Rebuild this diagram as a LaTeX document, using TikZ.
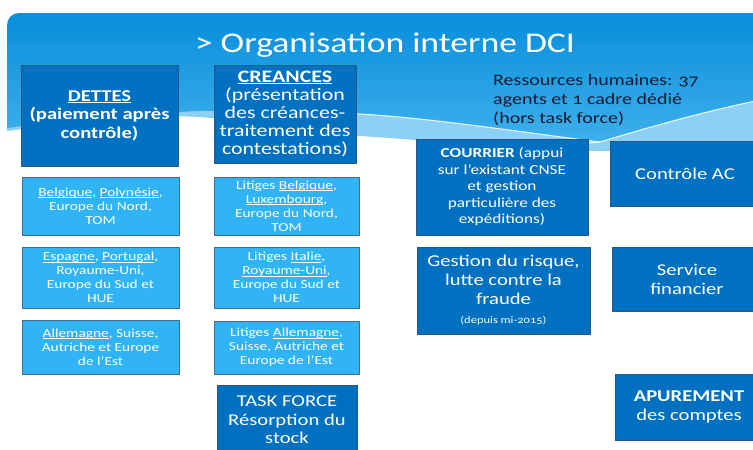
\documentclass[tikz,border=0pt]{standalone}
\usepackage{fontspec}
\setmainfont{Carlito}[FakeStretch=1.25]
\definecolor{dkbox}{RGB}{0,112,192}
\definecolor{dkborder}{RGB}{45,85,130}
\definecolor{ltbox}{RGB}{48,180,245}
\definecolor{ltborder}{RGB}{70,105,140}
\definecolor{bgtop}{RGB}{8,142,218}
\definecolor{bgbot}{RGB}{62,176,236}
\definecolor{band}{RGB}{140,208,244}
\definecolor{rhtext}{RGB}{25,25,50}
\newcommand{\myul}[1]{\setbox0\hbox{#1}\rlap{\rule[-1.7pt]{\wd0}{0.55pt}}\box0}
\newcommand{\osn}{\addfontfeatures{Numbers=OldStyle}}
\begin{document}
\begin{tikzpicture}[x=1pt,y=-1pt,
  dark/.style={draw=dkborder, fill=dkbox, line width=0.8pt, text=white, align=center, inner sep=0pt},
  light/.style={draw=ltborder, fill=ltbox, line width=0.8pt, text=white, align=center, inner sep=0pt,
    font=\fontsize{12.3}{14}\selectfont},
  bigtxt/.style={font=\fontsize{16.5}{18.5}\selectfont},
  midtxt/.style={font=\fontsize{13.8}{16.5}\selectfont}]
\useasboundingbox (0,0) rectangle (753,450);
\fill[white] (0,0) rectangle (753,450);
% light band under the banner
\fill[band] (7,100) -- (7,131) .. controls (80,122) and (150,114) .. (200,117)
  .. controls (260,122) and (300,133) .. (360,136)
  .. controls (450,142) and (540,150) .. (600,151)
  .. controls (660,152) and (720,152) .. (760,152) -- (760,100) -- cycle;
% main banner
\shade[top color=bgtop, bottom color=bgbot]
  (7,128) [rounded corners=12pt] -- (7,13) -- (770,13) [sharp corners] -- (770,98)
  .. controls (700,112) and (640,130) .. (600,142)
  .. controls (520,132) and (430,118) .. (360,114)
  .. controls (300,111) and (250,110) .. (200,111)
  .. controls (120,114) and (50,122) .. (7,128) -- cycle;
% white wave lines
\draw[white, line width=1.1pt, opacity=0.85]
  (230,110.5) .. controls (280,110) and (320,112) .. (360,114)
  .. controls (430,118) and (520,132) .. (600,142);
\draw[white, line width=1.1pt, opacity=0.85]
  (560,142) .. controls (580,144) and (590,143) .. (600,142)
  .. controls (640,130) and (700,112) .. (770,98);
% title
\node[text=white, font=\fontsize{28.5}{32}\selectfont] (title) at (385,45) {> Organisation interne DCI};
% left column
\node[dark, bigtxt, minimum width=157pt, minimum height=101pt] (dettes) at (99.5,115.5)
  {\textbf{\myul{DETTES}}\\\textbf{(paiement après}\\\textbf{contrôle)}};
\node[light, minimum width=157pt, minimum height=58pt] (l1) at (100.5,206)
  {\myul{Belgique}, \myul{Polynésie},\\Europe du Nord,\\TOM};
\node[light, minimum width=157pt, minimum height=61pt] (l2) at (100.5,277.5)
  {\myul{Espagne}, \myul{Portugal},\\Royaume-Uni,\\Europe du Sud et\\HUE};
\node[light, minimum width=157pt, minimum height=54pt] (l3) at (100.5,347)
  {\myul{Allemagne}, Suisse,\\Autriche et Europe\\de l’Est};
% second column
\node[dark, font=\fontsize{17.5}{18.2}\selectfont, minimum width=142pt, minimum height=98pt] (creances) at (285,114)
  {\textbf{\myul{CREANCES}}\\(présentation\\des créances-\\traitement des\\contestations)};
\node[light, minimum width=145pt, minimum height=58pt] (r1) at (286.5,206)
  {Litiges \myul{Belgique},\\\myul{Luxembourg},\\Europe du Nord,\\TOM};
\node[light, minimum width=145pt, minimum height=61pt] (r2) at (286.5,277.5)
  {Litiges \myul{Italie},\\\myul{Royaume-Uni},\\Europe du Sud et\\HUE};
\node[light, minimum width=145pt, minimum height=53pt] (r3) at (286.5,347.5)
  {Litiges \myul{Allemagne},\\Suisse, Autriche et\\Europe de l’Est};
\node[dark, minimum width=140pt, minimum height=90pt] (task) at (287,430) {};
\node[text=white, bigtxt, align=center] (tasktxt) at (287,420) {TASK FORCE\\Résorption du\\stock};
% right part
\node[text=rhtext, align=left, anchor=north west, font=\fontsize{16}{19}\selectfont\osn, inner sep=0pt] (rh) at (493,74)
  {Ressources humaines: 37\\agents et 1 cadre dédié\\(hors task force)};
\node[dark, midtxt, minimum width=172pt, minimum height=96pt] (courrier) at (502,187)
  {\textbf{COURRIER} (appui\\sur l’existant CNSE\\et gestion\\particulière des\\expéditions)};
\node[dark, minimum width=150pt, minimum height=65pt, font=\fontsize{16.5}{19}\selectfont] (controle) at (685,173.5)
  {Contrôle AC};
\node[dark, minimum width=173pt, minimum height=87pt, font=\fontsize{16.5}{19}\selectfont] (risque) at (503.5,290.5)
  {Gestion du risque,\\lutte contre la\\fraude\\{\fontsize{10}{16}\selectfont\osn (depuis mi-2015)}};
\node[dark, minimum width=150pt, minimum height=64pt, font=\fontsize{16.5}{19}\selectfont] (service) at (687,279)
  {Service\\financier};
\node[dark, minimum width=148pt, minimum height=66pt, font=\fontsize{16.5}{19}\selectfont] (apur) at (689,407)
  {\textbf{APUREMENT}\\des comptes};
\end{tikzpicture}
\end{document}
